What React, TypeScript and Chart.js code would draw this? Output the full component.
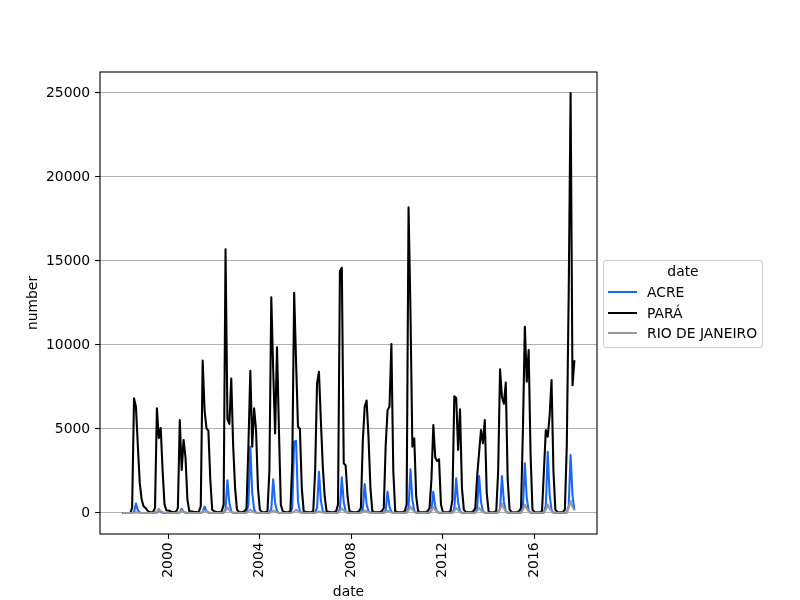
import React, { useEffect, useRef } from "react";
import { Chart, registerables } from "chart.js";

Chart.register(...registerables);

// monthly fire counts, Jan 1998 .. Oct 2017, one row per year (Jan..Dec)
const FIRST_YEAR = 1998;
const STATES = ["ACRE", "PARÁ", "RIO DE JANEIRO"];
const COLORS = ["#1a66ff", "#000000", "#999999"];

const ACRE = [
  0, 0, 0, 0, 0, 0, 60, 560, 170, 30, 0, 0,
  0, 0, 0, 0, 0, 10, 30, 230, 70, 10, 5, 0,
  0, 0, 0, 0, 0, 10, 30, 250, 80, 10, 5, 0,
  0, 0, 0, 0, 0, 10, 50, 380, 110, 20, 5, 0,
  0, 0, 0, 0, 5, 20, 230, 1950, 600, 100, 10, 0,
  0, 0, 0, 0, 5, 30, 480, 3950, 1200, 200, 10, 0,
  0, 0, 0, 0, 5, 30, 240, 2000, 600, 100, 10, 0,
  0, 0, 0, 0, 5, 300, 4250, 4300, 700, 100, 10, 0,
  0, 0, 0, 0, 5, 30, 300, 2460, 740, 120, 10, 0,
  0, 0, 0, 0, 5, 30, 250, 2120, 640, 100, 10, 0,
  0, 0, 0, 0, 5, 30, 200, 1730, 520, 90, 10, 0,
  0, 0, 0, 0, 5, 20, 150, 1270, 380, 60, 10, 0,
  0, 0, 0, 0, 5, 30, 310, 2600, 780, 130, 10, 0,
  0, 0, 0, 0, 5, 20, 150, 1270, 380, 60, 10, 0,
  0, 0, 0, 0, 5, 30, 250, 2060, 620, 100, 10, 0,
  0, 0, 0, 0, 5, 30, 260, 2200, 660, 110, 10, 0,
  0, 0, 0, 0, 5, 30, 260, 2200, 660, 110, 10, 0,
  0, 0, 0, 0, 5, 30, 350, 2960, 890, 150, 10, 0,
  0, 0, 0, 0, 5, 30, 440, 3650, 1100, 180, 10, 0,
  0, 0, 0, 0, 5, 30, 410, 3450, 1040, 170,
];

const PARA = [
  0, 0, 0, 0, 0, 300, 6830, 6330, 4000, 1790, 800, 400,
  300, 150, 60, 40, 60, 300, 6230, 4460, 5060, 2500, 500, 150,
  150, 100, 50, 40, 80, 300, 5540, 2560, 4350, 3300, 800, 100,
  100, 80, 50, 50, 80, 400, 9070, 6130, 5040, 4900, 2000, 200,
  100, 50, 40, 50, 100, 500, 15700, 5600, 5300, 8000, 4000, 1500,
  200, 60, 40, 50, 100, 300, 4000, 8470, 3950, 6230, 4940, 1500,
  200, 60, 40, 60, 100, 2500, 12840, 8500, 4740, 9860, 5000, 500,
  100, 50, 40, 60, 100, 3000, 13110, 9000, 5140, 5000, 1500, 100,
  80, 40, 40, 60, 100, 2500, 7720, 8410, 5500, 2800, 1000, 100,
  80, 40, 40, 60, 100, 500, 14400, 14600, 2960, 2830, 1000, 100,
  80, 40, 40, 60, 100, 300, 4300, 6330, 6690, 4500, 1500, 100,
  60, 40, 40, 60, 100, 300, 4000, 6130, 6330, 10060, 2500, 100,
  60, 40, 40, 60, 100, 500, 18200, 12000, 3950, 4440, 1000, 100,
  60, 40, 40, 60, 100, 300, 2000, 5240, 3300, 3100, 3200, 500,
  60, 40, 40, 60, 100, 800, 6950, 6850, 3750, 6170, 1500, 200,
  60, 40, 40, 60, 100, 300, 2200, 3600, 4940, 4150, 5540, 1200,
  100, 40, 40, 60, 100, 2500, 8550, 6900, 6500, 7760, 2000, 200,
  60, 40, 40, 60, 100, 300, 5000, 11090, 7820, 9700, 3500, 200,
  60, 40, 40, 60, 100, 2500, 4940, 4540, 5800, 7920, 2500, 200,
  60, 40, 40, 60, 200, 4000, 13000, 25000, 7600, 9100,
];

const RIO = [
  0, 0, 0, 0, 0, 0, 20, 50, 25, 10, 0, 0,
  10, 5, 5, 5, 10, 20, 80, 200, 100, 50, 20, 10,
  10, 5, 5, 5, 10, 20, 60, 150, 80, 40, 15, 5,
  10, 5, 5, 5, 10, 20, 60, 150, 80, 40, 15, 5,
  10, 5, 5, 10, 15, 30, 130, 330, 160, 80, 30, 10,
  10, 5, 5, 5, 10, 20, 80, 200, 100, 50, 20, 10,
  10, 5, 5, 5, 10, 20, 60, 150, 80, 40, 15, 5,
  10, 5, 5, 5, 10, 20, 80, 200, 100, 50, 20, 10,
  10, 5, 5, 5, 10, 15, 40, 100, 50, 25, 10, 5,
  10, 5, 5, 5, 10, 20, 110, 280, 140, 70, 25, 10,
  10, 5, 5, 5, 10, 20, 60, 150, 80, 40, 15, 5,
  10, 5, 5, 5, 10, 20, 60, 150, 80, 40, 15, 5,
  10, 5, 5, 10, 15, 30, 150, 380, 190, 90, 30, 10,
  10, 5, 5, 10, 15, 30, 140, 350, 170, 80, 30, 10,
  10, 5, 5, 10, 15, 30, 120, 300, 150, 70, 25, 10,
  10, 5, 5, 10, 15, 30, 120, 300, 150, 70, 25, 10,
  15, 10, 10, 10, 20, 40, 220, 550, 270, 130, 40, 15,
  15, 10, 10, 10, 20, 40, 200, 500, 250, 120, 40, 15,
  15, 10, 10, 10, 20, 40, 200, 500, 250, 120, 40, 15,
  15, 10, 10, 10, 20, 40, 290, 730, 360, 170,
];

const SERIES = [ACRE, PARA, RIO];
const X_TICKS = [2000, 2004, 2008, 2012, 2016];
const Y_TICKS = [0, 5000, 10000, 15000, 20000, 25000];

const FONT = { family: "'DejaVu Sans', sans-serif", size: 13.9 };

const toPoints = (values: number[]) =>
  values.map((v, i) => ({ x: FIRST_YEAR + i / 12, y: v }));

// matplotlib style full box around the axes
const framePlugin = {
  id: "frame",
  afterDatasetsDraw(chart: any) {
    const { ctx, chartArea: a } = chart;
    ctx.save();
    ctx.strokeStyle = "#000";
    ctx.lineWidth = 1.1;
    ctx.strokeRect(a.left, a.top, a.right - a.left, a.bottom - a.top);
    ctx.restore();
  },
};

const Legend = () => (
  <div
    style={{
      position: "absolute",
      left: 603,
      top: 260,
      width: 160,
      height: 88,
      boxSizing: "border-box",
      border: "1px solid #cccccc",
      borderRadius: 3,
      background: "rgba(255,255,255,0.8)",
      fontFamily: "'DejaVu Sans', sans-serif",
      fontSize: 13.9,
      color: "#000",
    }}
  >
    <div style={{ position: "absolute", top: 2, left: 0, width: "100%", textAlign: "center", lineHeight: "16px" }}>
      date
    </div>
    {STATES.map((s, i) => (
      <div key={s} style={{ position: "absolute", left: 0, top: 23.3 + i * 20.2, height: 16, width: "100%" }}>
        <div style={{ position: "absolute", left: 4, top: 7, width: 29, height: 2, background: COLORS[i] }} />
        <div style={{ position: "absolute", left: 43, top: 0, lineHeight: "16px", whiteSpace: "nowrap" }}>{s}</div>
      </div>
    ))}
  </div>
);

const App = () => {
  const canvasRef = useRef<HTMLCanvasElement>(null);

  useEffect(() => {
    const ctx = canvasRef.current!.getContext("2d") as CanvasRenderingContext2D;

    const xEnd = FIRST_YEAR + (PARA.length - 1) / 12;
    const xPad = 0.05 * (xEnd - FIRST_YEAR);
    const all = [...ACRE, ...PARA, ...RIO];
    const yLo = Math.min(...all);
    const yHi = Math.max(...all);
    const yPad = 0.05 * (yHi - yLo);

    const chart = new Chart(ctx, {
      type: "line",
      data: {
        datasets: STATES.map((s, i) => ({
          label: s,
          data: toPoints(SERIES[i]),
          borderColor: COLORS[i],
          backgroundColor: COLORS[i],
          borderWidth: 2.08,
          pointRadius: 0,
          tension: 0,
          fill: false,
          borderJoinStyle: "round",
          order: STATES.length - i,
        })),
      },
      options: {
        responsive: false,
        animation: false,
        events: [],
        layout: { padding: { top: 72, right: 203, left: 0, bottom: 0 } },
        plugins: { legend: { display: false }, tooltip: { enabled: false } },
        scales: {
          x: {
            type: "linear",
            min: FIRST_YEAR - xPad,
            max: xEnd + xPad,
            afterBuildTicks: (s: any) => {
              s.ticks = X_TICKS.map((v) => ({ value: v }));
            },
            afterFit: (s: any) => {
              s.height = 66;
            },
            ticks: {
              autoSkip: false,
              minRotation: 90,
              maxRotation: 90,
              padding: 3.5,
              color: "#000",
              font: FONT,
              callback: (v: any) => String(v),
            },
            grid: { drawOnChartArea: false, drawTicks: true, tickLength: 4.9, tickColor: "#000", tickWidth: 1.1 },
            border: { display: false },
            title: { display: true, text: "date", color: "#000", font: FONT, padding: { top: 0, bottom: -1 } },
          },
          y: {
            type: "linear",
            min: yLo - yPad,
            max: yHi + yPad,
            afterBuildTicks: (s: any) => {
              s.ticks = Y_TICKS.map((v) => ({ value: v }));
            },
            afterFit: (s: any) => {
              s.width = 100;
            },
            ticks: {
              padding: 4.9,
              color: "#000",
              font: FONT,
              callback: (v: any) => String(v),
            },
            grid: { color: "#b0b0b0", lineWidth: 1.1, drawTicks: true, tickLength: 4.9, tickColor: "#000", tickWidth: 1.1 },
            border: { display: false },
            title: { display: true, text: "number", color: "#000", font: FONT, padding: { top: 25, bottom: 0 } },
          },
        },
      },
      plugins: [framePlugin],
    } as any);

    return () => chart.destroy();
  }, []);

  return (
    <div style={{ position: "absolute", left: 0, top: 0, width: 800, height: 600, background: "#fff" }}>
      <canvas ref={canvasRef} width={800} height={600} style={{ width: 800, height: 600 }} />
      <Legend />
    </div>
  );
};

export default App;
